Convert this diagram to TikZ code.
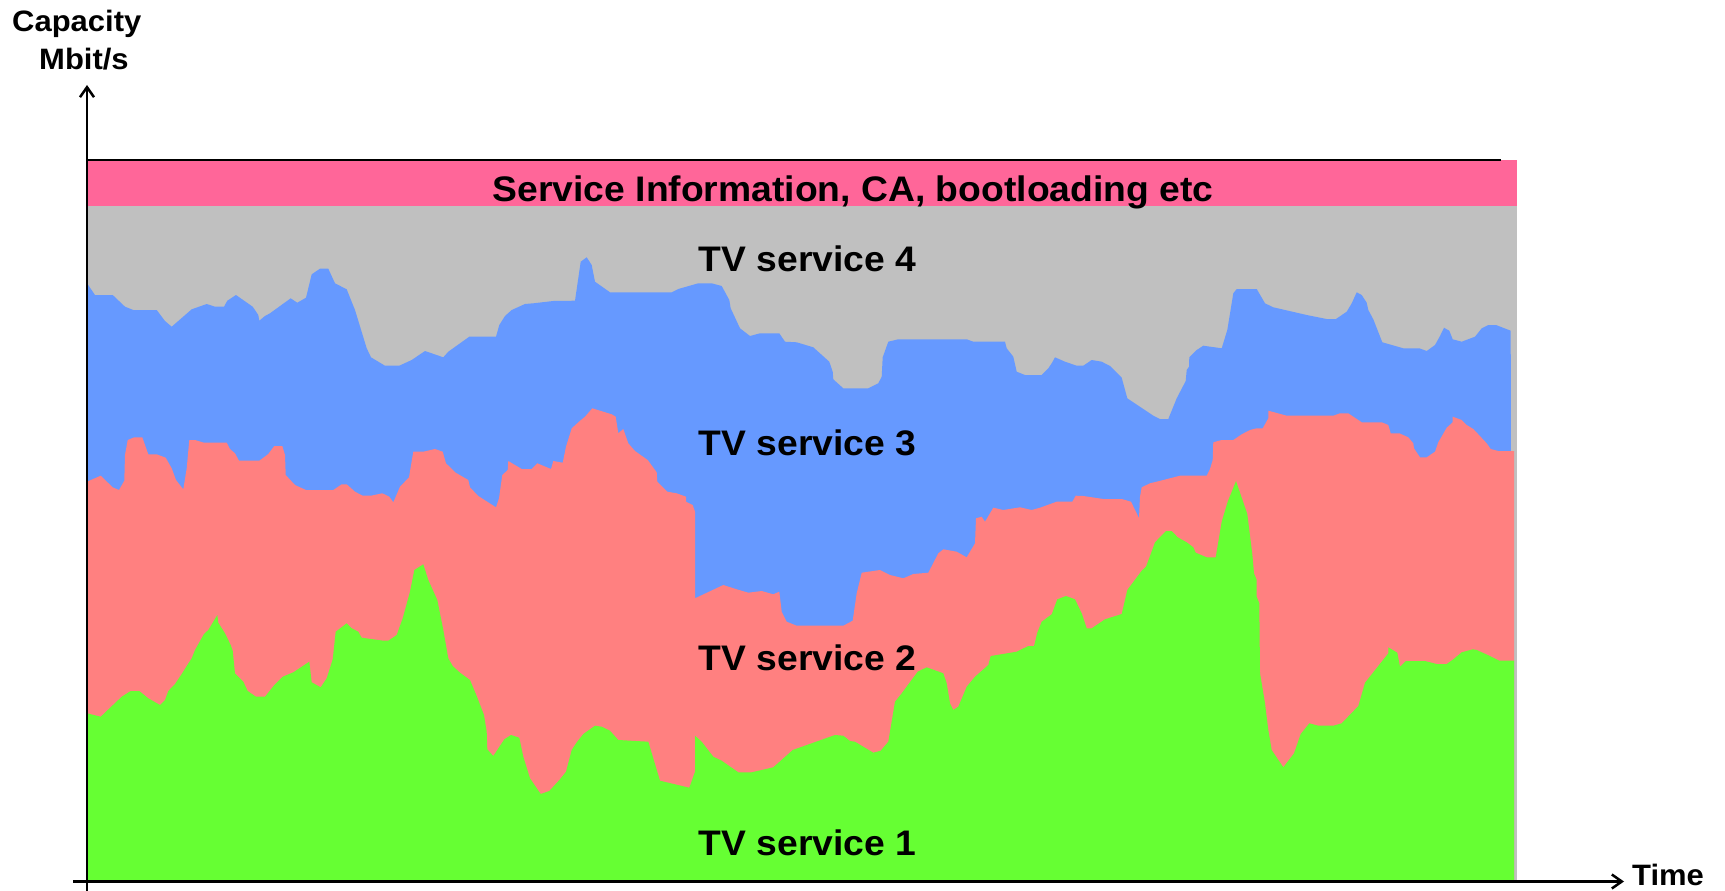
\documentclass[tikz,border=0pt]{standalone}
\usepackage{fontspec}
\setmainfont{Liberation Sans}[FakeStretch=1.05]
\usetikzlibrary{arrows.meta}
\definecolor{cgray}{HTML}{C0C0C0}
\definecolor{cblue}{HTML}{6699FF}
\definecolor{cred}{HTML}{FF8080}
\definecolor{cgreen}{HTML}{66FF33}
\definecolor{cpink}{HTML}{FF6699}
\begin{document}
\begin{tikzpicture}[x=1pt,y=-1pt,
  lbl/.style={font=\fontsize{35.5}{40}\selectfont\bfseries, inner sep=0pt, anchor=base west},
  axlbl/.style={font=\fontsize{29.5}{34}\selectfont\bfseries, inner sep=0pt, anchor=base west},
  axisline/.style={line width=2.5pt, -{Straight Barb[length=10pt,width=14pt]}}]
\useasboundingbox (0,0) rectangle (1725,891);
% layers
\fill[cgray] (87,206) rectangle (1517,881);
\fill[cpink] (87,159.5) rectangle (1517,206);
\fill[cblue] (87,881) -- (87,283.3) -- (95,295) -- (112.7,295) -- (125,306.7) -- (133.3,310) -- (156.7,310) -- (165,321) -- (171.7,326.7) -- (191.7,309.3) -- (206.7,304) -- (215,306.7) -- (224,306.7) -- (227.3,300.7) -- (236,295) -- (252.7,306.7) -- (258.3,315) -- (259.3,320.7) -- (265,316) -- (270,313.3) -- (290.7,298.3) -- (297.3,302.7) -- (306,297.7) -- (311.7,274.3) -- (320,268.7) -- (328.3,268.7) -- (335,283.3) -- (346.7,289.3) -- (355,310) -- (366.7,348.3) -- (371,357.3) -- (385,365.7) -- (399.3,365.7) -- (411.7,360) -- (425,351) -- (443.3,357.3) -- (448.3,351.7) -- (469.3,336.7) -- (496,336.7) -- (499.3,325) -- (505,316) -- (511.7,310) -- (525,304) -- (533.3,303.3) -- (553.3,301) -- (575,300.7) -- (577.3,285) -- (580.7,261.7) -- (586.7,257.3) -- (591.7,265) -- (595,281.7) -- (610,292.3) -- (671.7,292.3) -- (678.3,289) -- (698.3,283.3) -- (711.7,283.3) -- (721.7,286) -- (729.3,300) -- (730.7,308.3) -- (740,328.3) -- (750,336) -- (760,333.3) -- (779.3,333.3) -- (785,341.7) -- (796.7,342.3) -- (813.3,347.3) -- (829.3,361.7) -- (832.7,371.7) -- (833.3,379.3) -- (843.3,388.3) -- (868.3,388.3) -- (878.3,383.3) -- (881.7,376.7) -- (882.7,357.3) -- (888.3,341.7) -- (898.3,339.3) -- (966.7,339.3) -- (973.3,341.7) -- (1005,341.7) -- (1006.7,348.3) -- (1013.3,356.7) -- (1016.7,371.7) -- (1025,375) -- (1041.7,375) -- (1048.3,368.3) -- (1051.7,363.3) -- (1055,357.3) -- (1065,361.7) -- (1076.7,365.7) -- (1083.3,365.7) -- (1091.7,360) -- (1101.7,361.7) -- (1110,366) -- (1121.7,377.7) -- (1127.3,398.3) -- (1153.3,415.7) -- (1160,419) -- (1168.3,419) -- (1176.7,398.3) -- (1185.7,381) -- (1186.7,370) -- (1189,366.7) -- (1189.3,357.3) -- (1196.7,350) -- (1203.3,345.7) -- (1221.7,348.3) -- (1227.3,330) -- (1233.3,293.3) -- (1236.7,289) -- (1256.7,289) -- (1265,303.3) -- (1273.3,307.3) -- (1306.7,315) -- (1326.7,319) -- (1336,319) -- (1346.7,311.7) -- (1351.7,303.3) -- (1356.7,292.3) -- (1361.7,295) -- (1366.7,302.7) -- (1368.3,310) -- (1373.3,319.3) -- (1382.3,342.3) -- (1403.3,348.3) -- (1419.3,348.3) -- (1426.7,351) -- (1435,345) -- (1440,336) -- (1444,327.7) -- (1449.3,330.7) -- (1452.7,339.3) -- (1461.7,341.7) -- (1475,336.7) -- (1481.7,328.3) -- (1488.3,325) -- (1496,325) -- (1510.7,330.7) -- (1511.5,881) -- cycle;
\fill[cred] (87,881) -- (87,481.7) -- (100.7,475.7) -- (112.7,487.3) -- (119,490) -- (124.3,480.7) -- (125,455) -- (127.7,440) -- (134.3,437.3) -- (142.3,437.3) -- (148.3,454.3) -- (156.7,454.3) -- (165.7,457.7) -- (171.7,468.3) -- (176,480) -- (183.3,489.3) -- (186.7,468.3) -- (189.3,440) -- (195,440) -- (204,442.7) -- (226.7,442.7) -- (230,449) -- (235,453.3) -- (239,460.7) -- (259.3,460.7) -- (268.3,454) -- (274.3,446) -- (282.3,446) -- (285,455) -- (285.7,475) -- (295,485) -- (306,490) -- (333.3,490) -- (341.7,484.3) -- (346.7,484.3) -- (355,491.7) -- (362.7,495.7) -- (371,495.7) -- (382.3,493.3) -- (389.3,496.7) -- (393.3,502.3) -- (400,486.7) -- (409,477.3) -- (413.3,451.7) -- (423.3,451.7) -- (435,449) -- (442.7,451.7) -- (446,463.3) -- (455.7,472.7) -- (468.3,480) -- (470,487.3) -- (478.3,496) -- (496,507.3) -- (499,498.3) -- (502.3,475) -- (507.7,470) -- (508.3,461) -- (521.7,469) -- (531.7,469) -- (537.3,463.3) -- (551,469) -- (553.3,461) -- (562.7,462.7) -- (566,446.7) -- (571.7,428.3) -- (579,421.7) -- (585,416.7) -- (592.3,408.3) -- (611.7,414.3) -- (615.7,416.7) -- (618.3,433.3) -- (623.3,429) -- (628.3,443.3) -- (635,451) -- (647.7,460) -- (656.7,472.3) -- (657.3,481.7) -- (667.3,491.7) -- (676.7,493.3) -- (686,496.7) -- (686,501.7) -- (692.7,505) -- (695,511.7) -- (695,598.3) -- (723.3,585) -- (736.7,589.3) -- (748.3,592.7) -- (761.7,591) -- (773.3,594.3) -- (779.3,591.7) -- (781.7,611.7) -- (786.7,621.7) -- (796.7,625.7) -- (843.3,625.7) -- (852.7,620.7) -- (856.7,593.3) -- (861.7,572.7) -- (880,570) -- (890,575) -- (903.3,578.3) -- (913.3,574) -- (928.3,572.7) -- (938.3,553.3) -- (943.3,549.3) -- (956.7,551.7) -- (966.7,557.3) -- (975,543.3) -- (976,518.3) -- (981.7,516.7) -- (985,521.7) -- (993.3,507.7) -- (1003.3,510) -- (1020,507.3) -- (1031.7,510) -- (1040,507.7) -- (1056.7,501.7) -- (1072.3,501.7) -- (1075.7,495.7) -- (1083.3,496) -- (1103.3,499) -- (1121.7,499) -- (1131,501.7) -- (1136.7,513.3) -- (1139,518.3) -- (1140,496.7) -- (1141.7,487.3) -- (1150,483.3) -- (1163.3,480) -- (1180,475.7) -- (1206.7,475.7) -- (1210,469) -- (1212.7,460) -- (1213.3,442.3) -- (1221.7,440) -- (1233.3,440) -- (1241.7,434.3) -- (1250,430) -- (1256.7,428.3) -- (1262.7,428.3) -- (1268.3,418.3) -- (1268.3,410.7) -- (1286.7,415.7) -- (1333.3,415.7) -- (1340,413.3) -- (1348.3,413.3) -- (1361.7,422.3) -- (1381.7,422.3) -- (1388.3,425) -- (1390.7,433.3) -- (1399.3,433.3) -- (1408.3,437.3) -- (1413.3,443.3) -- (1414,448.3) -- (1420,457.3) -- (1426.7,457.3) -- (1435,451.7) -- (1438.3,442.3) -- (1446.7,427.7) -- (1452.7,422.3) -- (1452.7,416.7) -- (1461.7,420) -- (1466.7,425) -- (1473.3,429) -- (1486.7,443.3) -- (1490.7,449) -- (1498.3,451) -- (1514,451) -- (1514,881) -- cycle;
\fill[cgreen] (87,881) -- (87,713.3) -- (100.7,716.7) -- (121.7,696.7) -- (130.7,691) -- (139.3,691) -- (148.3,698.3) -- (160,705) -- (165,700) -- (168.3,691) -- (175,684) -- (181.7,674) -- (186.7,666) -- (191.7,658.3) -- (195,650) -- (204,634) -- (208.3,630) -- (217.3,615) -- (218.3,622.7) -- (225,633.3) -- (230.7,645) -- (232.7,650.7) -- (235,673.3) -- (243.3,681.7) -- (247.7,691) -- (256,696.7) -- (265,696.7) -- (274.3,685) -- (282.7,676.7) -- (293.3,672.3) -- (309.3,661.7) -- (311.7,682.3) -- (320.7,687.3) -- (326.7,678.3) -- (332.7,659.3) -- (335.7,631.7) -- (346.7,623.3) -- (351.7,628.3) -- (358.3,631.7) -- (361.7,637.7) -- (383.3,640.7) -- (388.3,640.7) -- (396.7,635) -- (402.7,618.3) -- (410,591.7) -- (414.3,570) -- (423.3,564.3) -- (428.3,580) -- (437.3,600) -- (443.3,630) -- (448.3,658.3) -- (452.7,666) -- (460,672.7) -- (470,680) -- (476.7,696) -- (484,715) -- (486.7,731.7) -- (487.3,749.3) -- (493.3,756) -- (504.3,739.3) -- (511,735) -- (519.3,737.7) -- (523.3,756.7) -- (530,778.3) -- (540.7,794) -- (549.3,791) -- (560,779.3) -- (566,771.7) -- (571.7,750) -- (576.7,742.3) -- (583.3,734) -- (595,725.7) -- (601.7,726.7) -- (610,730.7) -- (618.3,740) -- (648.3,741.7) -- (660,780.7) -- (689.3,787.7) -- (695,771.7) -- (695,735.7) -- (701.7,741.7) -- (713.3,756.7) -- (721.7,760.7) -- (738.3,772.3) -- (751.7,772.3) -- (773.3,767.3) -- (792.7,750) -- (835,735) -- (843.3,735.7) -- (850,741) -- (855,741.7) -- (873.3,752.7) -- (880.7,750.7) -- (888.3,741.7) -- (895,701.7) -- (901.7,693.3) -- (917.7,671.7) -- (926.7,667.3) -- (943.3,673.3) -- (946.7,683.3) -- (950,703.3) -- (953.3,710) -- (958.3,706.7) -- (966.7,686.7) -- (975,676.7) -- (988.3,665) -- (990.7,656) -- (1016.7,651.7) -- (1028.3,646) -- (1034,646) -- (1037.3,632.7) -- (1041.7,621.7) -- (1051.7,614.3) -- (1057.3,599.3) -- (1066,596) -- (1075,599.3) -- (1081.7,613.3) -- (1086.7,628.3) -- (1091.7,628.3) -- (1105,619.3) -- (1121.7,614) -- (1127.3,590) -- (1141.7,570.7) -- (1146,566.7) -- (1150,556) -- (1155,542.3) -- (1166,531) -- (1171.7,531) -- (1177.7,537.3) -- (1186.7,542.3) -- (1193.3,547.3) -- (1195.7,552.7) -- (1206.7,557.3) -- (1215.7,557.3) -- (1221.7,521.7) -- (1227.7,501.7) -- (1236,481) -- (1247.3,514) -- (1252.3,554) -- (1254,573.3) -- (1256.7,580) -- (1256.7,596.7) -- (1259.3,603.3) -- (1260,673.3) -- (1265,703.3) -- (1268.3,730) -- (1271.7,750) -- (1283.3,767.3) -- (1294,753.3) -- (1300.7,734) -- (1309.3,723.3) -- (1318.3,725.7) -- (1333.3,725.7) -- (1341.7,723.3) -- (1358.3,706) -- (1365,682.7) -- (1388.3,653.3) -- (1388.3,647.3) -- (1397.3,652.7) -- (1400,666.7) -- (1406,661) -- (1425,661) -- (1436.7,664) -- (1446.7,664) -- (1453.3,659.3) -- (1461.7,652.3) -- (1472.7,649.3) -- (1476.7,650) -- (1490,656) -- (1499.3,660.7) -- (1514,660.7) -- (1514,881) -- cycle;
% top line and axes
\coordinate (tl) at (87,160);
\coordinate (tr) at (1501,160);
\draw[line width=2.5pt] (tl) -- (tr);
\coordinate (xs) at (73,881.5);
\coordinate (xe) at (1624,881.5);
\coordinate (ys) at (87,891);
\coordinate (ye) at (87,85);
\draw[axisline] (xs) -- (xe);
\draw[axisline] (ys) -- (ye);
% labels
\node[lbl] (si) at (492.5,201.7) {Service Information, CA, bootloading etc};
\node[lbl] (tv4) at (698.5,271.7) {TV service 4};
\node[lbl] (tv3) at (698.5,455) {TV service 3};
\node[lbl] (tv2) at (698.5,670) {TV service 2};
\node[lbl] (tv1) at (698.5,855) {TV service 1};
\node[axlbl] (cap) at (12,31.7) {Capacity};
\node[axlbl] (mb) at (39,70) {Mbit/s};
\node[axlbl] (time) at (1632,885) {Time};
\end{tikzpicture}
\end{document}
